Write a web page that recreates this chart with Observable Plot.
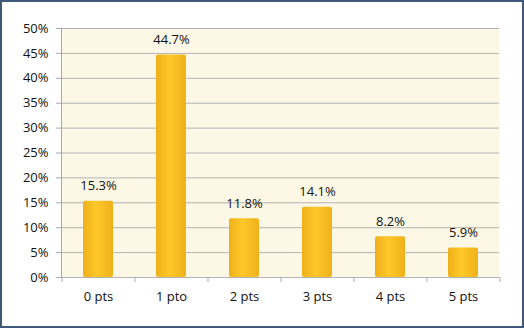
<!DOCTYPE html>
<html>
<head>
<meta charset="utf-8">
<script src="https://cdn.jsdelivr.net/npm/d3@7"></script>
<script src="https://cdn.jsdelivr.net/npm/@observablehq/plot@0.6"></script>
<style>
  html, body { margin: 0; padding: 0; background: #fff; }
  #wrap { width: 524px; height: 328px; box-sizing: border-box; border: 2px solid #3d5878; background: #fff; overflow: hidden; }
  #wrap svg { display: block; }
</style>
</head>
<body>
<div id="wrap"></div>
<script>
const categories = ["0 pts", "1 pto", "2 pts", "3 pts", "4 pts", "5 pts"];
const values = [0.153, 0.447, 0.118, 0.141, 0.082, 0.059];
const yTicks = [0, 0.05, 0.10, 0.15, 0.20, 0.25, 0.30, 0.35, 0.40, 0.45, 0.50];

const data = categories.map((c, i) => ({cat: c, value: values[i]}));
const pct = d3.format(".1%");
const pct0 = d3.format(".0%");

const W = 520, H = 324;
const mL = 59, mR = 23, mT = 26, mB = 49;
const bandPx = (W - mL - mR) / categories.length;

const gradient = () => {
  const svg = d3.create("svg:g");
  const defs = svg.append("defs");
  const g = defs.append("linearGradient").attr("id", "barGrad").attr("x1", "0").attr("x2", "1").attr("y1", "0").attr("y2", "0");
  g.append("stop").attr("offset", "0%").attr("stop-color", "#eeb01a");
  g.append("stop").attr("offset", "45%").attr("stop-color", "#ffc82a");
  g.append("stop").attr("offset", "100%").attr("stop-color", "#efb11b");
  const f = defs.append("filter").attr("id", "shadow").attr("x", "-20%").attr("y", "-10%").attr("width", "140%").attr("height", "120%");
  f.append("feDropShadow").attr("dx", 1).attr("dy", 1).attr("stdDeviation", 1.2).attr("flood-color", "#8a6a20").attr("flood-opacity", 0.35);
  return svg.node();
};

const chart = Plot.plot({
  width: W,
  height: H,
  marginLeft: mL,
  marginRight: mR,
  marginTop: mT,
  marginBottom: mB,
  style: {fontFamily: "'Open Sans', sans-serif", fontSize: "13px", color: "#111", background: "#ffffff"},
  x: {domain: categories, paddingInner: 0.59, paddingOuter: 0.295, label: null},
  y: {domain: [0, 0.5], label: null},
  marks: [
    gradient,
    Plot.frame({fill: "#fdf8e6", stroke: null}),
    Plot.ruleY(yTicks, {stroke: "#b3b3b3", strokeWidth: 1}),
    Plot.axisY({ticks: yTicks, tickFormat: pct0, tickSize: 5, tickPadding: 8, stroke: "#a8a8a8", label: null, fontSize: 13, fill: "#111"}),
    Plot.axisX({tickSize: 0, tickPadding: 14, label: null, fontSize: 13, fill: "#111"}),
    Plot.frame({anchor: "left", stroke: "#a8a8a8"}),
    Plot.ruleX(categories, {x: d => d, y1: 0, y2: -0.01, dx: -bandPx / 2, stroke: "#a8a8a8"}),
    Plot.ruleX([categories[categories.length - 1]], {x: d => d, y1: 0, y2: -0.01, dx: bandPx / 2, stroke: "#a8a8a8"}),
    Plot.barY(data, {x: "cat", y: "value", fill: "url(#barGrad)", rx: 2, style: {filter: "url(#shadow)"}}),
    Plot.text(data, {x: "cat", y: "value", text: d => pct(d.value), dy: -15, fontSize: 13, fill: "#111"})
  ]
});

document.getElementById("wrap").appendChild(chart);
</script>
</body>
</html>
